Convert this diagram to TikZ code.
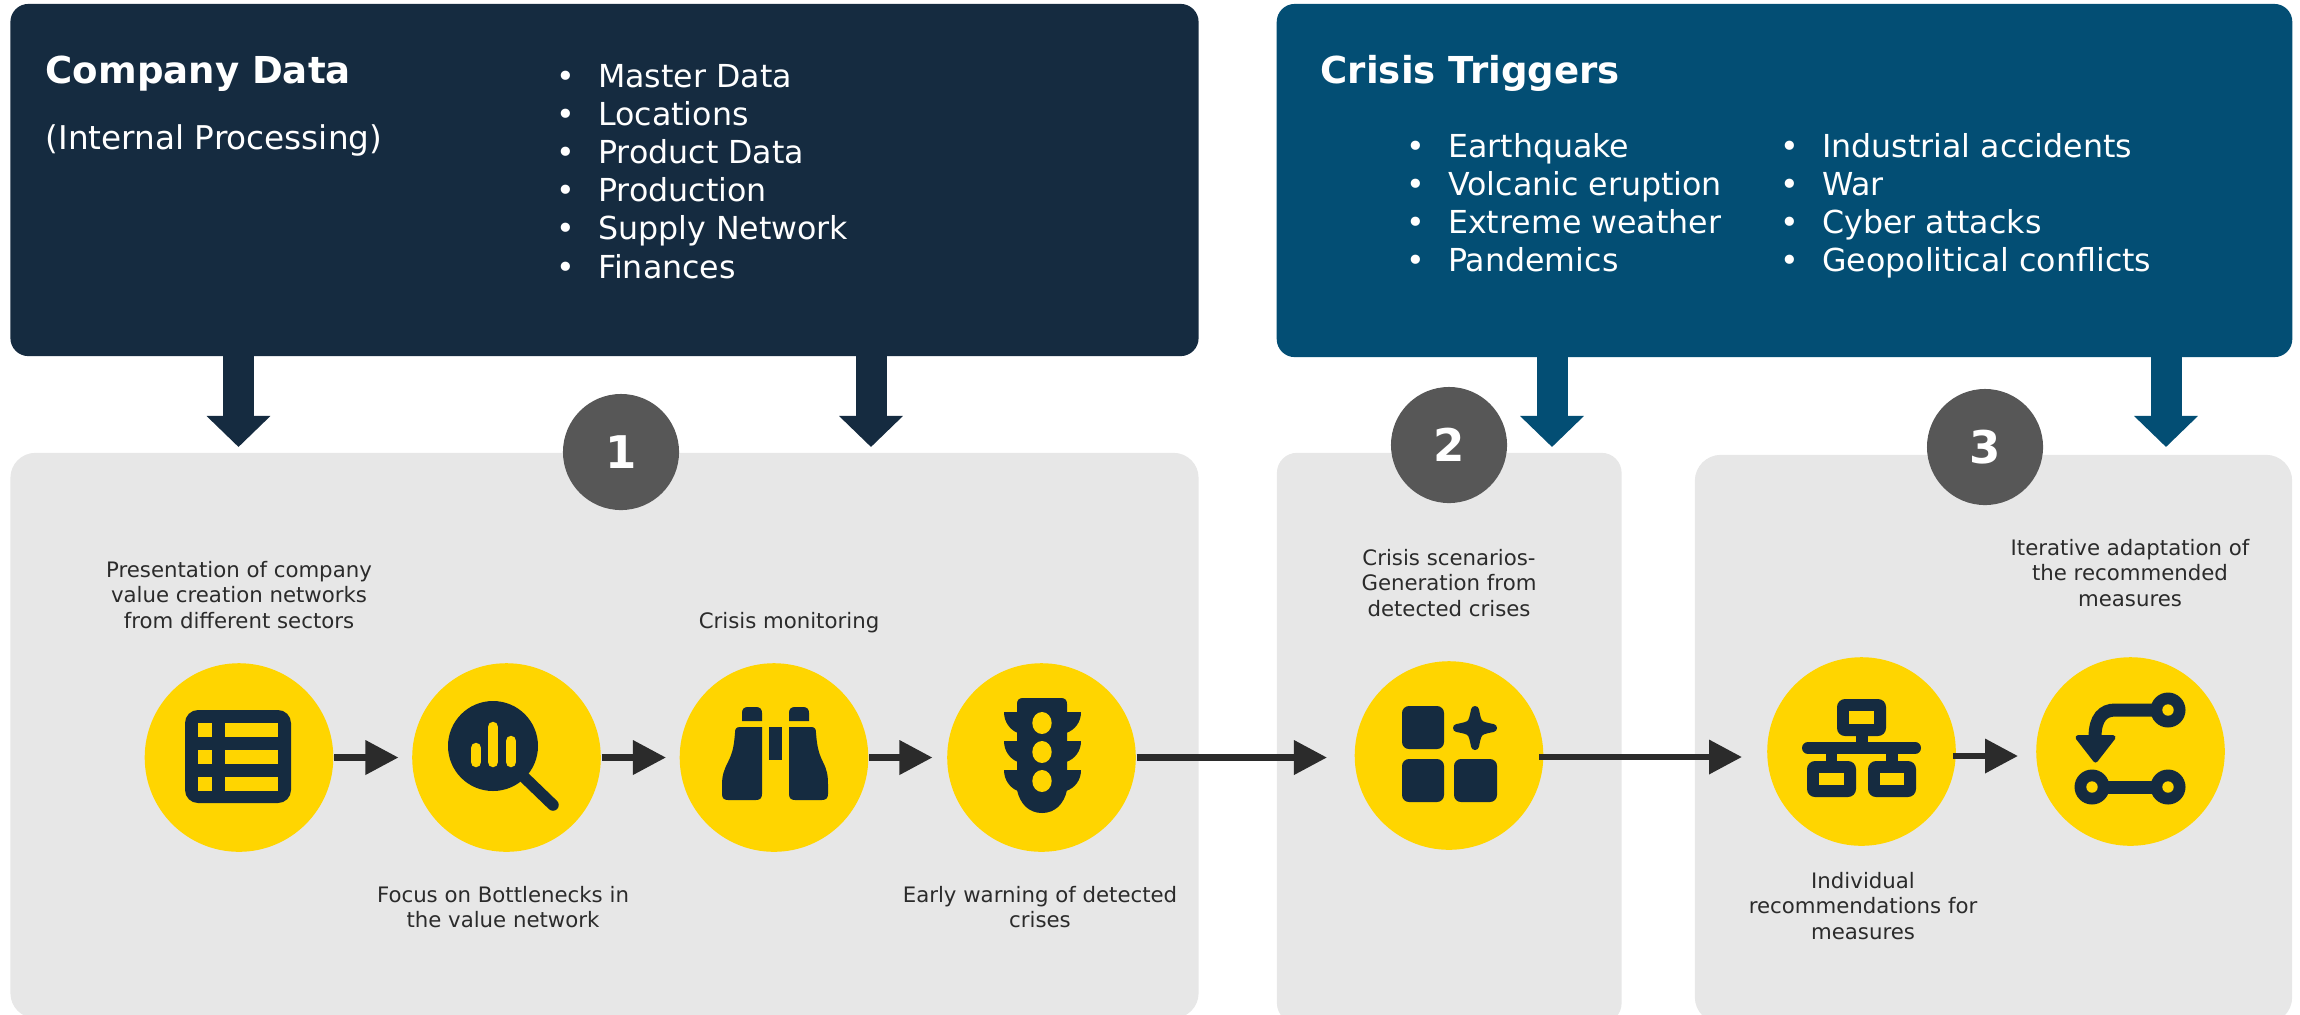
\documentclass[tikz,border=0pt]{standalone}
\usepackage{fontspec}
\setmainfont{DejaVu Sans}
\usetikzlibrary{arrows.meta,positioning}
\definecolor{navy}{HTML}{152B40}
\definecolor{petrol}{HTML}{034E74}
\definecolor{sun}{HTML}{FFD500}
\definecolor{panel}{HTML}{E7E7E7}
\definecolor{badgegrey}{HTML}{575757}
\definecolor{ink}{HTML}{2B2B2B}
\tikzset{
    box/.style={inner sep=0pt,rounded corners=0.18cm},
    spot/.style={circle,fill=sun,inner sep=0pt,minimum size=1.885cm},
    badge/.style={circle,fill=badgegrey,text=white,inner sep=0pt,minimum size=1.16cm,font=\fontsize{12.8}{14}\selectfont\bfseries},
    title/.style={anchor=base west,text=white,inner sep=0pt,font=\fontsize{10.55}{12}\selectfont\bfseries},
    item/.style={anchor=base west,text=white,inner sep=0pt,font=\fontsize{9}{10.8}\selectfont},
    note/.style={align=center,text=ink,inner sep=0pt,font=\fontsize{6.05}{7.25}\selectfont},
    flow/.style={draw=ink,line width=0.067cm,-{Triangle[length=0.33cm,width=0.33cm]}},
    feed/.style={line width=0.31cm,shorten <=-0.02cm,-{Triangle[length=0.31cm,width=0.62cm]}},
}
\newcommand{\bulleted}[1]{\makebox[0.415cm][l]{•}#1}
\begin{document}
\begin{tikzpicture}[x=0.01cm,y=-0.01cm]
    \useasboundingbox (0,0) rectangle (2300,1014);

    \node (cmp) [box,fill=navy,minimum width=11.875cm,minimum height=3.52cm] at (604.5,180) {};
    \node (cri) [box,fill=petrol,minimum width=10.15cm,minimum height=3.53cm] at (1784.5,180.5) {};
    \node (grp1) [box,rounded corners=0.25cm,fill=panel,minimum width=11.875cm,minimum height=5.65cm] at (604.5,735.5) {};
    \node (grp2) [box,rounded corners=0.2cm,fill=panel,minimum width=3.445cm,minimum height=5.7cm] at (1449.25,738) {};
    \node (grp3) [box,rounded corners=0.26cm,fill=panel,minimum width=5.97cm,minimum height=5.68cm] at (1993.5,739) {};

    \coordinate (in1) at (238.5,447);
    \coordinate (in2) at (871,447);
    \coordinate (in3) at (1552,447);
    \coordinate (in4) at (2166,447);
    \draw[feed,navy] (cmp.south -| in1) -- (in1);
    \draw[feed,navy] (cmp.south -| in2) -- (in2);
    \draw[feed,petrol] (cri.south -| in3) -- (in3);
    \draw[feed,petrol] (cri.south -| in4) -- (in4);

    \node (one) [badge] at (621,452) {1};
    \node (two) [badge] at (1449,445) {2};
    \node (three) [badge] at (1985,447) {3};

    \node (cmpt) [title] at (45,83) {Company Data};
    \node (cmps) [item,font=\fontsize{9.3}{11}\selectfont] at (45,149) {(Internal Processing)};
    \node (crit) [title] at (1320,83) {Crisis Triggers};

    \foreach \txt [count=\i] in {Master Data,Locations,Product Data,Production,Supply Network,Finances}
        \node (cl\i) [item] at (556,{87+38.2*(\i-1)}) {\bulleted{\txt}};
    \foreach \txt [count=\i] in {Earthquake,Volcanic eruption,Extreme weather,Pandemics}
        \node (ca\i) [item] at (1406,{157+38.2*(\i-1)}) {\bulleted{\txt}};
    \foreach \txt [count=\i] in {Industrial accidents,War,Cyber attacks,Geopolitical conflicts}
        \node (cb\i) [item] at (1780,{157+38.2*(\i-1)}) {\bulleted{\txt}};

    \node (tbl) [spot] at (239,757.5) {};
    \node (mag) [spot] at (506.5,757.5) {};
    \node (bin) [spot] at (774,757.5) {};
    \node (trf) [spot] at (1041.5,757.5) {};
    \node (scn) [spot] at (1449,755.5) {};
    \node (rec) [spot] at (1861.5,751.5) {};
    \node (ada) [spot] at (2130.5,751.5) {};

    \coordinate (scnin) at (1327,757.5);
    \coordinate (scnout) at (1539,757);
    \coordinate (recin) at (1742,757);
    \coordinate (recout) at (1953,756);
    \coordinate (adain) at (2018,756);
    \draw[flow,shorten >=0.13cm] (tbl) -- (mag);
    \draw[flow,shorten >=0.13cm] (mag) -- (bin);
    \draw[flow,shorten >=0.14cm] (bin) -- (trf);
    \draw[flow] (trf) -- (scnin);
    \draw[flow] (scnout) -- (recin);
    \draw[flow] (recout) -- (adain);

    \node (ntbl) [note] at (239,595) {Presentation of company\\value creation networks\\from different sectors};
    \node (nmag) [note] at (503,907) {Focus on Bottlenecks in\\the value network};
    \node (nbin) [note] at (789,623) {Crisis monitoring};
    \node (ntrf) [note] at (1040,907) {Early warning of detected\\crises};
    \node (nscn) [note] at (1449,583) {Crisis scenarios-\\Generation from\\detected crises};
    \node (nrec) [note] at (1863,906) {Individual\\recommendations for\\measures};
    \node (nada) [note] at (2130,573) {Iterative adaptation of\\the recommended\\measures};

    \fill[navy,rounded corners=0.13cm] (185,710) rectangle (291,803);
    \foreach \y in {723,750,777} {
        \fill[sun] (198,\y) rectangle (212,\y+13.5);
        \fill[sun] (225,\y) rectangle (278,\y+13.5);
    }

    \fill[navy] (493,746) circle (45);
    \draw[navy,line width=0.115cm,line cap=round] (525,778) -- (553,805);
    \draw[sun,line width=0.105cm,line cap=round] (476,748) -- (476,762);
    \draw[sun,line width=0.105cm,line cap=round] (493,727) -- (493,762);
    \draw[sun,line width=0.105cm,line cap=round] (511,741) -- (511,762);

    \fill[navy] (742,721) -- (742,713) .. controls (742,709) and (744,707) .. (748,707) -- (756,707) .. controls (760,707) and (762,709) .. (762,713) -- (762,721) -- cycle;
    \fill[navy] (789,721) -- (789,713) .. controls (789,709) and (791,707) .. (795,707) -- (803,707) .. controls (807,707) and (809,709) .. (809,713) -- (809,721) -- cycle;
    \fill[navy] (769,727) rectangle (782,760);
    \fill[navy] (762,727) -- (740,727) .. controls (736,727) and (735,729) .. (735,733) .. controls (734,745) and (733,752) .. (728,762) .. controls (724,770) and (722,775) .. (722,785) -- (722,794) .. controls (722,798) and (724,800) .. (728,800) -- (756,800) .. controls (760,800) and (762,798) .. (762,794) -- cycle;
    \fill[navy] (789,727) -- (811,727) .. controls (815,727) and (816,729) .. (816,733) .. controls (817,745) and (818,752) .. (823,762) .. controls (827,770) and (828,775) .. (828,785) -- (828,794) .. controls (828,798) and (826,800) .. (822,800) -- (795,800) .. controls (791,800) and (789,798) .. (789,794) -- cycle;

    \fill[navy] (1017,790) -- (1017,704) .. controls (1017,700) and (1019,698) .. (1023,698) -- (1061,698) .. controls (1065,698) and (1067,700) .. (1067,704) -- (1067,790) .. controls (1064,804) and (1055,813) .. (1042,813) .. controls (1029,813) and (1020,804) .. (1017,790) -- cycle;
    \foreach \y in {712,741,770} {
        \fill[navy] (1018,\y) -- (1004,\y) .. controls (1004,\y+10) and (1010,\y+18) .. (1018,\y+21) -- cycle;
        \fill[navy] (1066,\y) -- (1081,\y) .. controls (1081,\y+10) and (1075,\y+18) .. (1066,\y+21) -- cycle;
    }
    \foreach \y in {723,752,781}
        \fill[sun] (1042,\y) ellipse (9.7 and 11);

    \fill[navy,rounded corners=0.07cm] (1402,706) rectangle (1444,749);
    \fill[navy,rounded corners=0.07cm] (1402,759) rectangle (1444,802);
    \fill[navy,rounded corners=0.07cm] (1454,759) rectangle (1497,802);
    \filldraw[navy,line width=0.08cm,line join=round] (1475,710) .. controls (1478,725) .. (1493,728) .. controls (1478,731) .. (1475,746) .. controls (1472,731) .. (1457,728) .. controls (1472,725) .. cycle;

    \fill[navy,rounded corners=0.08cm] (1837,699) rectangle (1886,736);
    \fill[sun] (1849,711) rectangle (1874,724);
    \fill[navy] (1856,736) rectangle (1868,745);
    \draw[navy,line width=0.12cm,line cap=round] (1808,748) -- (1915,748);
    \fill[navy] (1826,750) rectangle (1837,764);
    \fill[navy] (1886,750) rectangle (1898,764);
    \fill[navy,rounded corners=0.08cm] (1807,761) rectangle (1856,797);
    \fill[navy,rounded corners=0.08cm] (1868,761) rectangle (1916,797);
    \fill[sun] (1819,773) rectangle (1844,785);
    \fill[sun] (1880,773) rectangle (1904,785);

    \draw[navy,line width=0.13cm] (2168,710) -- (2115,710) .. controls (2103,710) and (2095,718) .. (2095,737);
    \filldraw[navy,line width=0.05cm,line join=round] (2078,737.5) -- (2113,737.5) -- (2095.5,760) -- cycle;
    \draw[navy,line width=0.13cm] (2092,787) -- (2168,787);
    \foreach \p in {(2168,710),(2092,787),(2168,787)} {
        \fill[navy] \p circle (17.5);
        \fill[sun] \p circle (5.7);
    }
\end{tikzpicture}
\end{document}
